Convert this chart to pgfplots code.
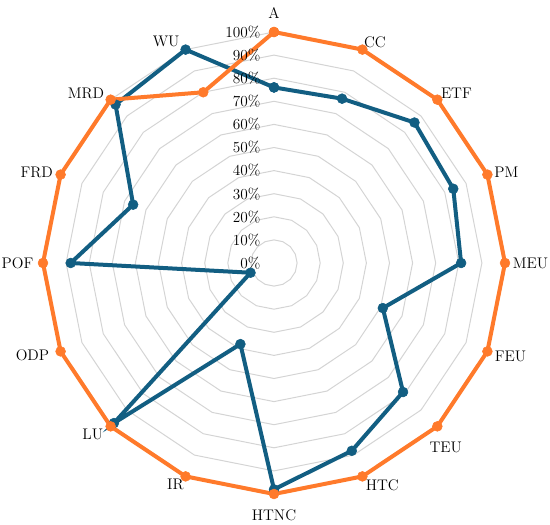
\documentclass[border=0pt]{standalone}
\usepackage{pgfplots}
\pgfplotsset{compat=1.18}
\usepackage{pgfplotstable}
\usepgfplotslibrary{polar}
\definecolor{orangeS}{HTML}{FF7A2B}
\definecolor{blueS}{HTML}{125E82}
\definecolor{gridS}{HTML}{D4D4D4}

% angle (polar, counter-clockwise from east), two series in percent
\pgfplotstableread{
ang   blue orange
90    76   100
67.5  77   100
45    86   100
22.5  84   100
0     81   100
337.5 51   100
315   79   100
292.5 88   100
270   98   100
247.5 38   100
225   98   100
202.5 11   100
180   88   100
157.5 66   100
135   97   100
112.5 100  80
90    76   100
}\radar

\begin{document}
\begin{tikzpicture}[font=\fontsize{11.5}{13}\selectfont]
\begin{polaraxis}[
    hide axis,
    width=346.5pt, height=346.5pt, scale only axis,
    xmin=0, xmax=360, ymin=0, ymax=100,
    clip=false,
]
    % polygon grid rings
    \pgfplotsinvokeforeach{10,20,...,100}{
        \addplot[gridS, line width=0.75pt, mark=none] table[x=ang, y expr=#1] {\radar};
    }
    \addplot[blueS, line width=3pt, mark=*, mark size=3.7pt, mark options={solid, line width=0.4pt}]
        table[x=ang, y=blue] {\radar};
    \addplot[orangeS, line width=3pt, mark=*, mark size=3.7pt, mark options={solid, line width=0.4pt}]
        table[x=ang, y=orange] {\radar};

    \pgfplotsinvokeforeach{0,10,...,100}{
        \node[anchor=east, inner sep=0pt, xshift=-10pt] at (axis cs:90,#1) {#1\%};
    }

    \node at (axis cs:90,108)    {A};
    \node at (axis cs:65.4,105)  {CC};
    \node at (axis cs:43,108)    {ETF};
    \node at (axis cs:21.3,108)  {PM};
    \node at (axis cs:0,111)     {MEU};
    \node at (axis cs:338.5,110) {FEU};
    \node at (axis cs:313,109)   {TEU};
    \node at (axis cs:296,107)   {HTC};
    \node at (axis cs:270,109)   {HTNC};
    \node at (axis cs:246,105)   {IR};
    \node at (axis cs:223.4,108) {LU};
    \node at (axis cs:201,112)   {ODP};
    \node at (axis cs:180,111)   {POF};
    \node at (axis cs:159,110)   {FRD};
    \node at (axis cs:138,109.5) {MRD};
    \node at (axis cs:116,106.5) {WU};

    \coordinate (c) at (axis cs:0,0);
\end{polaraxis}
\pgfresetboundingbox
\path[use as bounding box] (c) ++(-205.5pt,-196.5pt) rectangle ++(412.5pt,393.75pt);
\end{tikzpicture}
\end{document}
